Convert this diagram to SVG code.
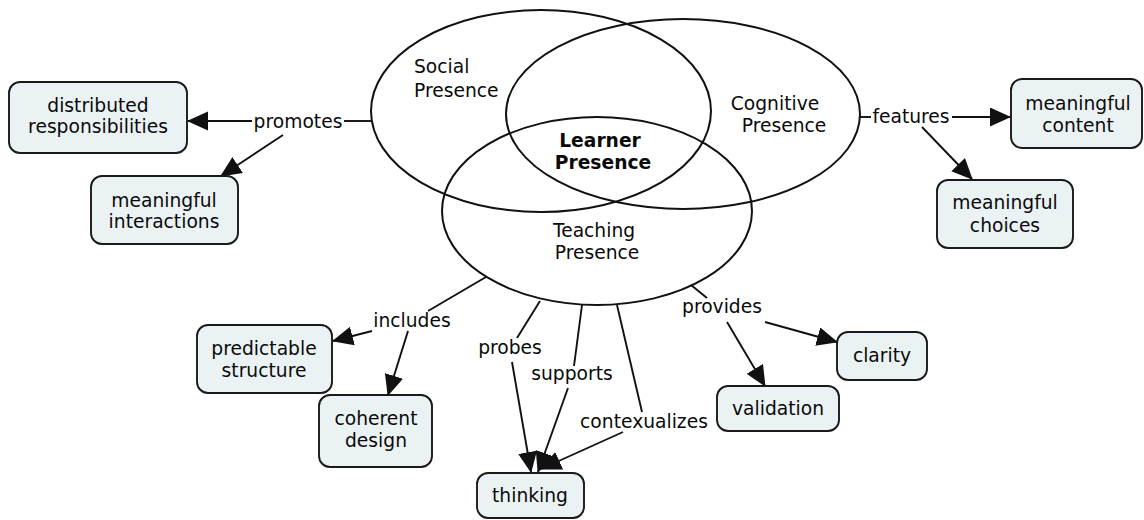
<svg xmlns="http://www.w3.org/2000/svg" width="1144" height="520" viewBox="0 0 1144 520">
<style>
text{font-family:"DejaVu Sans",Verdana,sans-serif;font-size:18.7px;fill:#0a0a0a;}
.c{text-anchor:middle;}
.b{font-weight:bold;}
.box{fill:#ebf2f4;stroke:#1a1a1a;stroke-width:1.9;}
.ell{fill:none;stroke:#111;stroke-width:2;}
.ln{fill:none;stroke:#111;stroke-width:1.9;}
.ar{fill:none;stroke:#111;stroke-width:1.9;marker-end:url(#ah);}
</style>
<defs>
<marker id="ah" markerUnits="userSpaceOnUse" markerWidth="24" markerHeight="22" refX="20" refY="9.5" orient="auto">
<path d="M0,0 L21,9.5 L0,19 z" fill="#111"/>
</marker>
</defs>
<rect width="1144" height="520" fill="#fff"/>
<g id="connectors">
<line class="ln" x1="371" y1="121" x2="344" y2="121"/>
<line class="ar" x1="252" y1="121" x2="188" y2="121"/>
<line class="ar" x1="283" y1="135" x2="221" y2="176"/>
<line class="ln" x1="860" y1="117" x2="871" y2="117"/>
<line class="ar" x1="952" y1="117" x2="1010" y2="117"/>
<line class="ar" x1="922" y1="127" x2="972" y2="179"/>
<line class="ln" x1="486" y1="277" x2="428" y2="311"/>
<line class="ar" x1="372" y1="331" x2="333" y2="341"/>
<line class="ar" x1="408" y1="331" x2="388" y2="395"/>
<line class="ln" x1="540" y1="301" x2="517" y2="338"/>
<line class="ar" x1="512" y1="362" x2="531" y2="472"/>
<line class="ln" x1="582" y1="305" x2="574" y2="366"/>
<line class="ar" x1="568" y1="388" x2="538" y2="472"/>
<line class="ln" x1="617" y1="305" x2="642" y2="412"/>
<line class="ar" x1="623" y1="432" x2="541" y2="469"/>
<line class="ln" x1="691" y1="285" x2="707" y2="298"/>
<line class="ar" x1="765" y1="322" x2="837" y2="342"/>
<line class="ar" x1="727" y1="322" x2="765" y2="386"/>
</g>
<g id="social-presence">
<ellipse class="ell" cx="541" cy="111" rx="170" ry="101"/>
<text x="414" y="73">Social</text>
<text x="414" y="97">Presence</text>
</g>
<g id="cognitive-presence">
<ellipse class="ell" cx="683" cy="114" rx="177" ry="95"/>
<text class="c" x="775" y="110">Cognitive</text>
<text class="c" x="784" y="132">Presence</text>
</g>
<g id="teaching-presence">
<ellipse class="ell" cx="597" cy="211" rx="155" ry="94"/>
<text class="c" x="594" y="237">Teaching</text>
<text class="c" x="597" y="259">Presence</text>
</g>
<g id="learner-presence">
<text class="c b" x="600" y="147">Learner</text>
<text class="c b" x="603" y="169">Presence</text>
</g>
<g id="label-promotes"><text class="c" x="298" y="128">promotes</text></g>
<g id="label-features"><text class="c" x="911" y="123">features</text></g>
<g id="label-includes"><text class="c" x="412" y="327">includes</text></g>
<g id="label-probes"><text class="c" x="510" y="354">probes</text></g>
<g id="label-supports"><text class="c" x="572" y="380">supports</text></g>
<g id="label-contexualizes"><text class="c" x="644" y="428">contexualizes</text></g>
<g id="label-provides"><text class="c" x="722" y="313">provides</text></g>
<g id="distributed-responsibilities">
<rect class="box" x="9" y="82" width="178" height="71" rx="11"/>
<text class="c" x="98" y="112">distributed</text>
<text class="c" x="98" y="133">responsibilities</text>
</g>
<g id="meaningful-interactions">
<rect class="box" x="91" y="176" width="147" height="68" rx="11"/>
<text class="c" x="164" y="207">meaningful</text>
<text class="c" x="164" y="228">interactions</text>
</g>
<g id="meaningful-content">
<rect class="box" x="1011" y="79" width="131" height="69" rx="11"/>
<text class="c" x="1078" y="110">meaningful</text>
<text class="c" x="1078" y="132">content</text>
</g>
<g id="meaningful-choices">
<rect class="box" x="937" y="180" width="136" height="68" rx="11"/>
<text class="c" x="1005" y="209">meaningful</text>
<text class="c" x="1005" y="232">choices</text>
</g>
<g id="predictable-structure">
<rect class="box" x="197" y="325" width="135" height="68" rx="11"/>
<text class="c" x="264" y="355">predictable</text>
<text class="c" x="264" y="377">structure</text>
</g>
<g id="coherent-design">
<rect class="box" x="319" y="395" width="113" height="72" rx="11"/>
<text class="c" x="376" y="425">coherent</text>
<text class="c" x="376" y="447">design</text>
</g>
<g id="thinking">
<rect class="box" x="477" y="473" width="107" height="45" rx="11"/>
<text class="c" x="530" y="502">thinking</text>
</g>
<g id="clarity">
<rect class="box" x="837" y="332" width="90" height="48" rx="11"/>
<text class="c" x="882" y="362">clarity</text>
</g>
<g id="validation">
<rect class="box" x="717" y="386" width="122" height="45" rx="11"/>
<text class="c" x="778" y="415">validation</text>
</g>
</svg>
